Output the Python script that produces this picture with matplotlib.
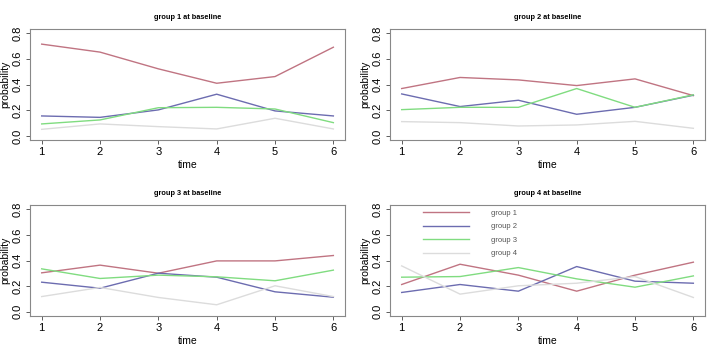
import matplotlib
matplotlib.use("Agg")
import matplotlib.pyplot as plt

time = [1, 2, 3, 4, 5, 6]
series_names = ["group 1", "group 2", "group 3", "group 4"]
colors = ["#c07482", "#6c6cb0", "#80dc80", "#dcdcdc"]

# probability of each group over time, one list per starting group
g1_base = [
    [0.714, 0.652, 0.522, 0.410, 0.462, 0.690],
    [0.156, 0.145, 0.203, 0.325, 0.195, 0.156],
    [0.094, 0.125, 0.220, 0.223, 0.210, 0.104],
    [0.052, 0.094, 0.073, 0.055, 0.138, 0.055],
]
g2_base = [
    [0.369, 0.455, 0.436, 0.392, 0.444, 0.314],
    [0.327, 0.229, 0.278, 0.169, 0.223, 0.317],
    [0.205, 0.223, 0.223, 0.369, 0.223, 0.320],
    [0.112, 0.104, 0.078, 0.086, 0.114, 0.060],
]
g3_base = [
    [0.304, 0.364, 0.301, 0.397, 0.397, 0.439],
    [0.231, 0.184, 0.301, 0.270, 0.156, 0.114],
    [0.335, 0.260, 0.286, 0.273, 0.242, 0.325],
    [0.119, 0.190, 0.112, 0.055, 0.203, 0.119],
]
g4_base = [
    [0.213, 0.371, 0.286, 0.161, 0.286, 0.387],
    [0.151, 0.213, 0.161, 0.353, 0.239, 0.223],
    [0.270, 0.275, 0.345, 0.257, 0.192, 0.280],
    [0.358, 0.138, 0.203, 0.223, 0.275, 0.112],
]
titles = ["group 1 at baseline", "group 2 at baseline",
          "group 3 at baseline", "group 4 at baseline"]
panels = [g1_base, g2_base, g3_base, g4_base]

fig = plt.figure(figsize=(7.2, 3.53), dpi=100)
plt.rcParams['font.family'] = ['Liberation Sans', 'DejaVu Sans']

positions = [
    [0.0417, 0.603, 0.4375, 0.315],
    [0.5417, 0.603, 0.4375, 0.315],
    [0.0417, 0.105, 0.4375, 0.314],
    [0.5417, 0.105, 0.4375, 0.314],
]

for k in range(4):
    ax = fig.add_axes(positions[k])
    for j in range(4):
        ax.plot(time, panels[k][j], color=colors[j], linewidth=1.0, label=series_names[j])
    ax.set_xlim(0.8, 6.2)
    ax.set_ylim(-0.032, 0.832)
    ax.set_xticks(time)
    ax.set_yticks([0.0, 0.2, 0.4, 0.6, 0.8])
    ax.set_yticklabels(["0.0", "0.2", "0.4", "0.6", "0.8"], rotation=90, va="center")
    ax.tick_params(labelsize=8, length=3, width=0.6, color="#444444", pad=2)
    for s in ax.spines.values():
        s.set_color("#888888")
        s.set_linewidth(0.8)
    ax.set_title(titles[k], fontsize=5.3, fontweight="bold", pad=7.5)
    ax.set_xlabel("time", fontsize=7.5, labelpad=2)
    ax.set_ylabel("probability", fontsize=7.5)
    ax.yaxis.set_label_coords(-0.063, 0.5)
    if k == 3:
        leg = ax.legend(loc="upper left", bbox_to_anchor=(0.105, 0.96), frameon=False,
                        fontsize=5.5, handlelength=6.0, handletextpad=2.9,
                        labelspacing=0.8, borderaxespad=0, borderpad=0)
        for t in leg.get_texts():
            t.set_color("#555555")

plt.savefig("out.png", dpi=100)
